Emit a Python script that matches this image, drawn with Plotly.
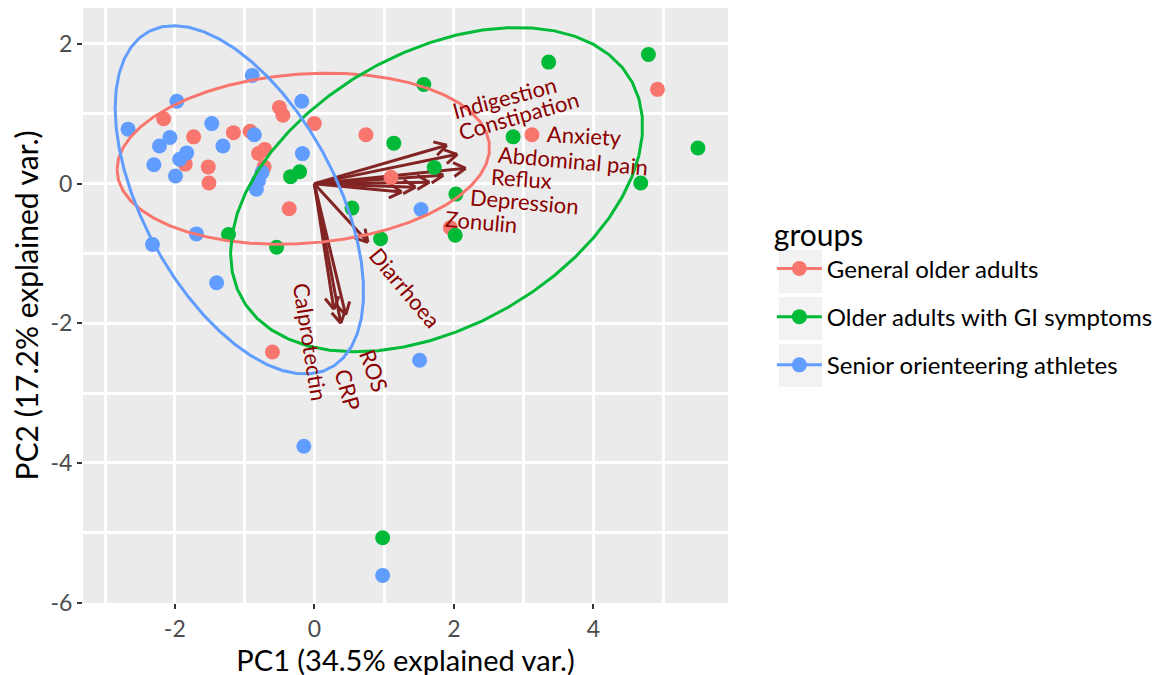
import numpy as np
import plotly.graph_objects as go

# ---------------- data ----------------
groups = ["General older adults", "Older adults with GI symptoms", "Senior orienteering athletes"]
group_colors = ["#F8766D", "#00BA38", "#619CFF"]

general_pc1 = [-2.16, -1.73, -1.16, -0.92, -0.50, -0.45, 0.00, 0.74, -0.80, -0.71,
               -1.85, -1.52, -1.51, -0.72, -0.36, 1.10, -0.60, 4.92, 3.12, 1.95]
general_pc2 = [0.93, 0.67, 0.73, 0.75, 1.09, 0.98, 0.86, 0.70, 0.43, 0.49,
               0.28, 0.24, 0.01, 0.24, -0.36, 0.09, -2.41, 1.35, 0.70, -0.63]

gi_pc1 = [1.57, 1.14, -0.34, -0.21, 1.72, 0.54, 0.95, -1.23, -0.54, 3.36,
          4.79, 2.85, 5.50, 4.68, 2.03, 2.02, 0.98]
gi_pc2 = [1.42, 0.58, 0.10, 0.17, 0.23, -0.35, -0.79, -0.73, -0.91, 1.74,
          1.85, 0.67, 0.51, 0.01, -0.15, -0.74, -5.07]

athletes_pc1 = [-0.89, -1.97, -2.67, -1.47, -0.18, -2.07, -2.22, -1.83, -1.93, -1.31,
                -2.30, -1.99, -0.86, -0.17, -0.75, -0.80, -0.83, 1.53, -1.69, -2.32,
                -1.40, 1.51, -0.15, 0.98]
athletes_pc2 = [1.55, 1.18, 0.78, 0.86, 1.18, 0.66, 0.54, 0.44, 0.35, 0.54,
                0.27, 0.11, 0.70, 0.43, 0.16, 0.04, -0.08, -0.37, -0.72, -0.87,
                -1.42, -2.53, -3.76, -5.61]

variables = ["Indigestion", "Constipation", "Anxiety", "Abdominal pain", "Reflux",
             "Depression", "Zonulin", "Diarrhoea", "Calprotectin", "CRP", "ROS"]
loading_pc1 = [1.90, 2.05, 2.17, 1.85, 1.65, 1.45, 1.25, 0.77, 0.28, 0.38, 0.45]
loading_pc2 = [0.55, 0.42, 0.22, 0.12, 0.02, -0.05, -0.12, -0.84, -1.80, -2.00, -1.88]
label_pc1 = [2.73, 2.93, 3.87, 3.71, 2.97, 3.02, 2.39, 1.30, -0.05, 0.48, 0.86]
label_pc2 = [1.24, 0.97, 0.69, 0.33, 0.08, -0.26, -0.54, -1.49, -2.27, -2.95, -2.67]
label_angle = [-15, -16, 3, 5, 4, 5, 5, 50, 81, 75, 70]

x_ticks = [-2, 0, 2, 4]
x_tick_labels = ["-2", "0", "2", "4"]
y_ticks = [-6, -4, -2, 0, 2]
y_tick_labels = ["-6", "-4", "-2", "0", "2"]
x_title = "PC1 (34.5% explained var.)"
y_title = "PC2 (17.2% explained var.)"
legend_title = "groups"
ellipse_prob = 0.68

FONT = "Lato, 'Open Sans', sans-serif"
ARROW_COLOR = "#832424"
LABEL_COLOR = "#8B0000"

fig = go.Figure()

# ---------------- arrows (drawn first, under points) ----------------
barb_len = 0.2
barb_ang = np.deg2rad(30)
for vx, vy in zip(loading_pc1, loading_pc2):
    d = np.array([vx, vy]) / np.hypot(vx, vy)
    xs, ys = [0, vx], [0, vy]
    for s in (1, -1):
        c, sn = np.cos(s * barb_ang), np.sin(s * barb_ang)
        r = np.array([c * d[0] - sn * d[1], sn * d[0] + c * d[1]])
        xs += [None, vx, vx - barb_len * r[0]]
        ys += [None, vy, vy - barb_len * r[1]]
    fig.add_trace(go.Scatter(x=xs, y=ys, mode="lines", showlegend=False,
                             line=dict(color=ARROW_COLOR, width=3), hoverinfo="skip"))

# ---------------- points ----------------
data = [(general_pc1, general_pc2), (gi_pc1, gi_pc2), (athletes_pc1, athletes_pc2)]
for (px, py), name, col in zip(data, groups, group_colors):
    fig.add_trace(go.Scatter(x=px, y=py, mode="markers", name=name, showlegend=False,
                             marker=dict(color=col, size=15, line=dict(width=0))))

# ---------------- ellipses (normal-probability, like ggbiplot) ----------------
theta = np.concatenate([np.linspace(-np.pi, np.pi, 50), np.linspace(np.pi, -np.pi, 50)])
circle = np.column_stack([np.cos(theta), np.sin(theta)])
ed = np.sqrt(-2 * np.log(1 - ellipse_prob))
for (px, py), name, col in zip(data, groups, group_colors):
    X = np.column_stack([px, py])
    mu = X.mean(axis=0)
    sigma = np.cov(X.T)
    U = np.linalg.cholesky(sigma).T
    ell = circle @ U * ed + mu
    fig.add_trace(go.Scatter(x=ell[:, 0], y=ell[:, 1], mode="lines", showlegend=False,
                             line=dict(color=col, width=3), hoverinfo="skip"))

# ---------------- legend entries ----------------
for i, (name, col) in enumerate(zip(groups, group_colors)):
    fig.add_trace(go.Scatter(x=[None], y=[None], mode="lines+markers", name=name,
                             legendgroup=f"g{i}",
                             line=dict(color=col, width=3),
                             marker=dict(color=col, size=15)))

# legend key backgrounds (ggplot grey95 squares)
key_boxes = [(0.5933, 0.5210), (0.5143, 0.4420), (0.4353, 0.3630)]
for top, bot in key_boxes:
    fig.add_shape(type="rect", xref="paper", yref="paper", x0=1.0791, x1=1.1457,
                  y0=bot, y1=top, fillcolor="#F2F2F2", line=dict(width=0), layer="below")

# ---------------- variable labels ----------------
for name, lx, ly, ang in zip(variables, label_pc1, label_pc2, label_angle):
    fig.add_annotation(x=lx, y=ly, xref="x", yref="y", text=name, showarrow=False,
                       textangle=ang, xanchor="center", yanchor="middle",
                       font=dict(family=FONT, size=22, color=LABEL_COLOR))

fig.update_layout(
    width=1160, height=675,
    margin=dict(l=75, r=440, t=0, b=80, autoexpand=False),
    paper_bgcolor="white", plot_bgcolor="#EBEBEB",
    font=dict(family=FONT, color="black"),
    legend=dict(title=dict(text=legend_title, font=dict(size=30, color="black")),
                font=dict(size=24, color="black"),
                x=1.068, xanchor="left", y=0.665, yanchor="top",
                tracegroupgap=14, itemwidth=45,
                bgcolor="rgba(0,0,0,0)"),
)
fig.update_xaxes(range=[-3.316, 5.931], tickvals=x_ticks, ticktext=x_tick_labels,
                 ticks="outside", ticklen=5,
                 tickwidth=2, tickcolor="#333333", showgrid=True, gridcolor="white",
                 gridwidth=2.5, zeroline=False, showline=False,
                 minor=dict(dtick=1, tick0=1, showgrid=True, gridcolor="white", gridwidth=2.5),
                 tickfont=dict(size=23, color="#4D4D4D"),
                 title=dict(text=x_title, font=dict(size=29, color="black"), standoff=2))
fig.update_yaxes(range=[-6.005, 2.515], tickvals=y_ticks, ticktext=y_tick_labels,
                 ticks="outside", ticklen=5,
                 tickwidth=2, tickcolor="#333333", showgrid=True, gridcolor="white",
                 gridwidth=2.5, zeroline=False, showline=False,
                 minor=dict(dtick=1, tick0=1, showgrid=True, gridcolor="white", gridwidth=2.5),
                 tickfont=dict(size=23, color="#4D4D4D"),
                 title=dict(text=y_title, font=dict(size=30, color="black"), standoff=16))

fig.write_html("out.html")
